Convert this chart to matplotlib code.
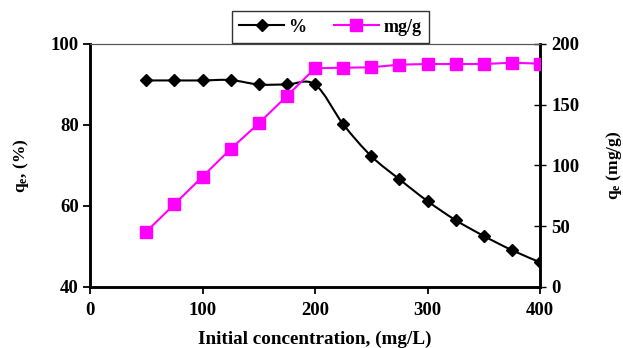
import numpy as np
import matplotlib
matplotlib.use("Agg")
import matplotlib.pyplot as plt
from matplotlib.path import Path
from matplotlib.patches import PathPatch
from matplotlib.lines import Line2D

plt.rcParams["font.family"] = ["Liberation Serif", "DejaVu Serif"]
plt.rcParams["font.weight"] = "bold"
plt.rcParams["mathtext.fontset"] = "custom"
plt.rcParams["mathtext.rm"] = "Liberation Serif:bold"
plt.rcParams["mathtext.it"] = "Liberation Serif:bold"

conc = [50, 75, 100, 125, 150, 175, 200, 225, 250, 275, 300, 325, 350, 375, 400]
removal_pct = [91.0, 91.0, 91.0, 91.1, 90.0, 90.0, 90.0, 80.2, 72.3, 66.6, 61.2, 56.5, 52.6, 49.1, 46.1]
qe_mg_g = [45.5, 68.1, 90.8, 113.6, 134.7, 157.2, 180.0, 180.5, 180.8, 183.0, 183.5, 183.5, 183.5, 184.6, 183.8]


def smooth_path(x, y):
    # Excel-style smoothed line: cubic Bezier segments through each point
    x = np.asarray(x, float); y = np.asarray(y, float)
    pts = np.column_stack([x, y])
    verts = [pts[0]]; codes = [Path.MOVETO]
    n = len(pts)
    for i in range(n - 1):
        p0 = pts[max(i - 1, 0)]; p1 = pts[i]; p2 = pts[i + 1]; p3 = pts[min(i + 2, n - 1)]
        verts += [p1 + (p2 - p0) / 6, p2 - (p3 - p1) / 6, p2]
        codes += [Path.CURVE4] * 3
    return Path(verts, codes)


fig = plt.figure(figsize=(6.23, 3.48), dpi=100)
ax = fig.add_axes([0.1445, 0.1753, 0.7223, 0.6983])
ax2 = ax.twinx()

ax.add_patch(PathPatch(smooth_path(conc, removal_pct), fill=False, edgecolor="black", lw=1.5, zorder=3))
ax.plot(conc, removal_pct, ls="none", marker="D", color="black", ms=6.5, zorder=4)
ax2.plot(conc, qe_mg_g, color="#FF00FF", lw=1.5, marker="s", ms=8, zorder=3)

ax.set_xlim(0, 400); ax.set_ylim(40, 100)
ax2.set_ylim(0, 200)
ax.set_xticks([0, 100, 200, 300, 400])
ax.set_yticks([40, 60, 80, 100])
ax2.set_yticks([0, 50, 100, 150, 200])

for a in (ax, ax2):
    for s in ("left", "bottom", "right"):
        a.spines[s].set_linewidth(1.8)
    a.spines["top"].set_linewidth(0.8)
    a.spines["top"].set_color("#555555")
ax.tick_params(axis="both", direction="out", length=5, width=1.3, labelsize=13.5)
ax.tick_params(axis="x", pad=6)
ax.tick_params(axis="y", pad=3)
ax2.tick_params(axis="y", direction="inout", length=8, width=1.0, labelsize=13.5, pad=4)
for lab in ax.get_xticklabels() + ax.get_yticklabels() + ax2.get_yticklabels():
    lab.set_fontweight("bold")

ax.set_xlabel("Initial concentration, (mg/L)", fontsize=13.8, fontweight="bold", labelpad=8)
ax.set_ylabel(r"q$_{\mathregular{e}}$, (%)", fontsize=12.5, fontweight="bold", labelpad=14)
ax2.set_ylabel(r"q$_{\mathregular{e}}$ (mg/g)", fontsize=12.5, fontweight="bold", labelpad=18)

handles = [Line2D([], [], color="black", lw=1.5, marker="D", ms=6.5),
           Line2D([], [], color="#FF00FF", lw=1.5, marker="s", ms=8)]
leg = fig.legend(handles, ["%", "mg/g"], loc="center", bbox_to_anchor=(0.53, 0.922), ncol=2,
                 frameon=True, fancybox=False, edgecolor="black", handlelength=2.5,
                 columnspacing=1.5, borderpad=0.4, handletextpad=0.25, borderaxespad=0,
                 prop={"weight": "bold", "size": 13})
leg.get_frame().set_linewidth(1.0)

fig.savefig("out.png", dpi=100)
